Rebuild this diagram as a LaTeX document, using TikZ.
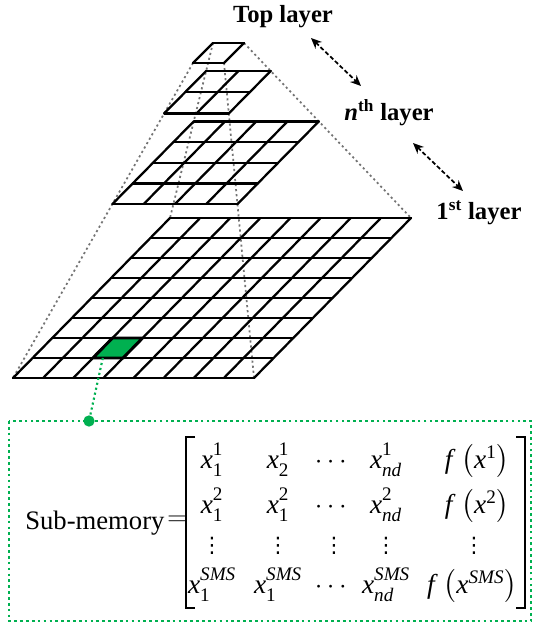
\RequirePackage{fix-cm}
\documentclass[tikz,border=0pt]{standalone}
\usepackage{fontspec}
\setmainfont{Liberation Serif}
\newfontfamily\dejavu{DejaVu Sans}
\usepackage{amsmath}
\usetikzlibrary{calc,arrows.meta}
\definecolor{cellgreen}{HTML}{00B050}
\newcommand\vx{\text{\itshape x}}
\newcommand\vf{\text{\itshape f}}
\newcommand\hi[1]{\text{\raisebox{1.6pt}{#1}}}
\newcommand\lo[1]{\text{\raisebox{-1.6pt}{#1}}}
\newcommand\drawgridlayer[5]{%
  \foreach \i in {0,...,#5} {
    \draw[gridline] ($(#1)!\i/#5!(#2)$) -- ($(#3)!\i/#5!(#4)$);
    \draw[gridline] ($(#1)!\i/#5!(#3)$) -- ($(#2)!\i/#5!(#4)$);
  }%
}
\begin{document}
\begin{tikzpicture}[x=0.75pt,y=-0.75pt,
  gridline/.style={line width=1.7pt, line cap=round, line join=round},
  edge/.style={black!55, line width=1.3pt, dash pattern=on 1.6pt off 2.2pt},
  dblarrow/.style={line width=1.3pt, dash pattern=on 3.2pt off 1.8pt,
    {Stealth[length=8pt,width=7pt]}-{Stealth[length=8pt,width=7pt]}},
  lbl/.style={font=\fontsize{18.5}{22}\selectfont\bfseries, inner sep=0},
  ent/.style={font=\fontsize{20.5}{24}\selectfont, inner sep=0, anchor=base},
  vd/.style={font=\fontsize{16}{18}\selectfont\dejavu, inner sep=0, anchor=center},
  gborder/.style={cellgreen, line width=2pt, dash pattern=on 2pt off 2.4pt},
  gconn/.style={cellgreen, line width=1.6pt, dash pattern=on 1.6pt off 2.2pt},
  brk/.style={line width=1.1pt}]
\useasboundingbox (0,0) rectangle (536,627);

% top cell and bottom layer corners
\coordinate (T-TL) at (213,43);
\coordinate (T-TR) at (244,43);
\coordinate (T-BL) at (193,63);
\coordinate (T-BR) at (224,63);
\coordinate (B-TL) at (170,218);
\coordinate (B-TR) at (411,218);
\coordinate (B-BL) at (13,378);
\coordinate (B-BR) at (254,378);
% intermediate layers
\foreach \c in {TL,TR,BL,BR} {
  \coordinate (L2-\c) at ($(T-\c)!0.16!(B-\c)$);
  \coordinate (L3-\c) at ($(T-\c)!0.448!(B-\c)$);
}

% pyramid edges
\draw[edge] (T-TR) -- (B-TR);
\draw[edge] (T-BL) -- (B-BL);
\draw[edge] (T-TL) -- (B-TL);
\draw[edge] (T-BR) -- (B-BR);

% layers
\drawgridlayer{T-TL}{T-TR}{T-BL}{T-BR}{1}
\drawgridlayer{L2-TL}{L2-TR}{L2-BL}{L2-BR}{2}
\drawgridlayer{L3-TL}{L3-TR}{L3-BL}{L3-BR}{4}
\drawgridlayer{B-TL}{B-TR}{B-BL}{B-BR}{8}

% green cell
\coordinate (gL6) at ($(B-TL)!6/8!(B-BL)$);
\coordinate (gL7) at ($(B-TL)!7/8!(B-BL)$);
\coordinate (gR6) at ($(B-TR)!6/8!(B-BR)$);
\coordinate (gR7) at ($(B-TR)!7/8!(B-BR)$);
\coordinate (g1) at ($(gL6)!2/8!(gR6)$);
\coordinate (g2) at ($(gL6)!3/8!(gR6)$);
\coordinate (g3) at ($(gL7)!3/8!(gR7)$);
\coordinate (g4) at ($(gL7)!2/8!(gR7)$);
\filldraw[fill=cellgreen, draw=black, line width=2.2pt, line join=round] (g1) -- (g2) -- (g3) -- (g4) -- cycle;
\coordinate (gstart) at ($(g4)!0.33!(g3)$);

% labels and arrows
\node[lbl] (top) at (283,17) {Top layer};
\node[lbl] (nth) at (389,113) {\textit{n}\textsuperscript{th} layer};
\node[lbl] (first) at (479,213) {1\textsuperscript{st} layer};
\coordinate (a1s) at (311,38);
\coordinate (a1e) at (361,86);
\coordinate (a2s) at (413,143);
\coordinate (a2e) at (463,191);
\draw[dblarrow] (a1s) -- (a1e);
\draw[dblarrow] (a2s) -- (a2e);

% sub-memory box
\coordinate (boxNW) at (9,421);
\coordinate (boxSE) at (531,621);
\draw[gborder] (boxNW) rectangle (boxSE);
\node[circle, fill=cellgreen, inner sep=0, minimum size=8.5pt] (dot) at (89,421) {};
\draw[gconn] (gstart) -- (dot);

\node[font=\fontsize{20}{24}\selectfont, inner sep=0, anchor=base west] (sub) at (25,529) {Sub-memory};
\node[font=\fontsize{20}{24}\selectfont, inner sep=0] (eq) at (177,521) {$=$};

% brackets
\coordinate (lbT) at (186,437);
\coordinate (lbB) at (186,608);
\coordinate (rbT) at (525,437);
\coordinate (rbB) at (525,608);
\draw[brk] ($(lbT)+(9,0)$) -- (lbT) -- (lbB) -- ($(lbB)+(9,0)$);
\draw[brk] ($(rbT)+(-9,0)$) -- (rbT) -- (rbB) -- ($(rbB)+(-9,0)$);

% matrix entries
\node[ent] (e11) at (212,468) {$\vx_{\lo{1}}^{\hi{1}}$};
\node[ent] (e12) at (278,468) {$\vx_{\lo{2}}^{\hi{1}}$};
\node[ent] (e13) at (333,468) {$\cdots$};
\node[ent] (e14) at (386,468) {$\vx_{\lo{\itshape nd}}^{\hi{1}}$};
\node[ent] (e15) at (477,468) {$\vf\,\left(\vx^{\text{1}}\right)$};

\node[ent] (e21) at (212,513) {$\vx_{\lo{1}}^{\hi{2}}$};
\node[ent] (e22) at (278,513) {$\vx_{\lo{1}}^{\hi{2}}$};
\node[ent] (e23) at (333,513) {$\cdots$};
\node[ent] (e24) at (386,513) {$\vx_{\lo{\itshape nd}}^{\hi{2}}$};
\node[ent] (e25) at (477,513) {$\vf\,\left(\vx^{\text{2}}\right)$};

\node[vd] (e31) at (212,546) {⋮};
\node[vd] (e32) at (278,546) {⋮};
\node[vd] (e33) at (334,546) {⋮};
\node[vd] (e34) at (386,546) {⋮};
\node[vd] (e35) at (474,546) {⋮};

\node[ent] (e41) at (212,593) {$\vx_{\lo{1}}^{\hi{\itshape SMS}}$};
\node[ent] (e42) at (278,593) {$\vx_{\lo{1}}^{\hi{\itshape SMS}}$};
\node[ent] (e43) at (333,593) {$\cdots$};
\node[ent] (e44) at (386,593) {$\vx_{\lo{\itshape nd}}^{\hi{\itshape SMS}}$};
\node[ent] (e45) at (472,593) {$\vf\,\left(\vx^{\text{\itshape SMS}}\right)$};
\end{tikzpicture}
\end{document}
